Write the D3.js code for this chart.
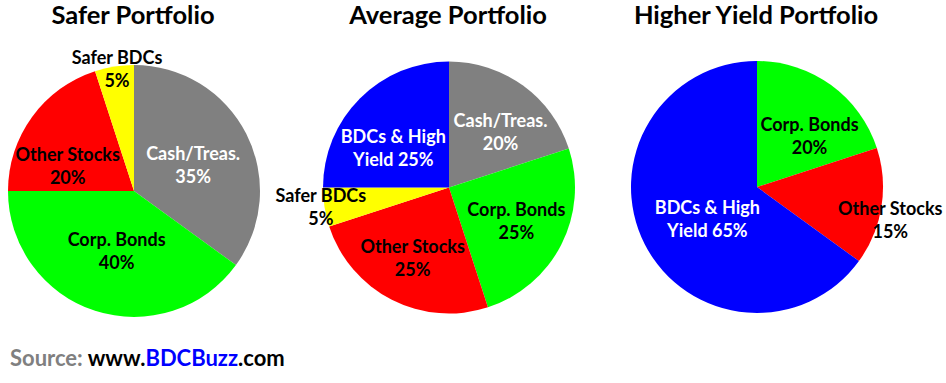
<!DOCTYPE html>
<meta charset="utf-8">
<script src="https://d3js.org/d3.v7.min.js"></script>
<style>
  body { margin: 0; background: #fff; }
  text { font-family: Lato, "Open Sans", sans-serif; font-weight: bold; }
</style>
<body>
<div id="my_dataviz"></div>
<script>
    // chart data
    const titles = ["Safer Portfolio", "Average Portfolio", "Higher Yield Portfolio"];

    const saferCats = ["Cash/Treas.", "Corp. Bonds", "Other Stocks", "Safer BDCs"];
    const saferVals = [35, 40, 20, 5];

    const averageCats = ["Cash/Treas.", "Corp. Bonds", "Other Stocks", "Safer BDCs", "BDCs & High\nYield"];
    const averageVals = [20, 25, 25, 5, 25];

    const higherCats = ["Corp. Bonds", "Other Stocks", "BDCs & High\nYield"];
    const higherVals = [20, 15, 65];

    const colorOf = {
        "Cash/Treas.": "#808080",
        "Corp. Bonds": "#00ff00",
        "Other Stocks": "#ff0000",
        "Safer BDCs": "#ffff00",
        "BDCs & High\nYield": "#0000ff"
    };
    const whiteText = ["Cash/Treas.", "BDCs & High\nYield"];

    // label placement (fraction of radius, angle shift in degrees) - layout only
    const labelLayout = [
        [[0.51, 4], [0.5, -2], [0.56, -16], [0.97, 1]],
        [[0.6, 7], [0.6, 0], [0.635, 0], [1.03, 0], [0.54, -10]],
        [[0.58, 10], [1.09, 5], [0.47, -6]]
    ];

    const width = 946, height = 383;
    const radius = 126;
    const centersX = [134, 449, 757];
    const centersY = [191, 187.5, 187];

    const svg = d3.select("#my_dataviz")
        .append("svg")
        .attr("width", width)
        .attr("height", height);

    const pies = [
        {cats: saferCats, vals: saferVals},
        {cats: averageCats, vals: averageVals},
        {cats: higherCats, vals: higherVals}
    ];

    const pie = d3.pie().sort(null).value(d => d.v);
    const arc = d3.arc().innerRadius(0).outerRadius(radius);

    pies.forEach((p, k) => {
        const g = svg.append("g")
            .attr("transform", `translate(${centersX[k]}, ${centersY[k]})`);

        const rows = p.cats.map((c, i) => ({c: c, v: p.vals[i]}));
        const slices = pie(rows);

        g.selectAll("path")
            .data(slices)
            .join("path")
            .attr("d", arc)
            .attr("fill", d => colorOf[d.data.c]);

        // title
        svg.append("text")
            .attr("x", centersX[k] - 1)
            .attr("y", 24)
            .attr("text-anchor", "middle")
            .style("font-size", "25.5px")
            .text(titles[k]);

        // labels
        slices.forEach((d, i) => {
            const [f, shift] = labelLayout[k][i];
            const a = (d.startAngle + d.endAngle) / 2 + shift * Math.PI / 180;
            const lx = Math.sin(a) * radius * f;
            const ly = -Math.cos(a) * radius * f;
            const lines = d.data.c.split("\n");
            if (lines.length > 1) lines[lines.length - 1] += " " + d.data.v + "%";
            else lines.push(d.data.v + "%");

            const t = g.append("text")
                .attr("text-anchor", "middle")
                .attr("x", lx)
                .attr("y", ly - 11.5 * (lines.length - 1) + 6)
                .style("font-size", "18px")
                .attr("fill", whiteText.includes(d.data.c) ? "#fff" : "#000");
            lines.forEach((s, j) => {
                t.append("tspan")
                    .attr("x", lx)
                    .attr("dy", j === 0 ? 0 : 23)
                    .text(s);
            });
        });
    });

    // source line
    const src = svg.append("text")
        .attr("x", 10)
        .attr("y", 366)
        .style("font-size", "22px");
    src.append("tspan").attr("fill", "#808080").text("Source: ");
    src.append("tspan").attr("fill", "#000").text("www.");
    src.append("tspan").attr("fill", "#0000ff").text("BDCBuzz");
    src.append("tspan").attr("fill", "#000").text(".com");
</script>
</body>
